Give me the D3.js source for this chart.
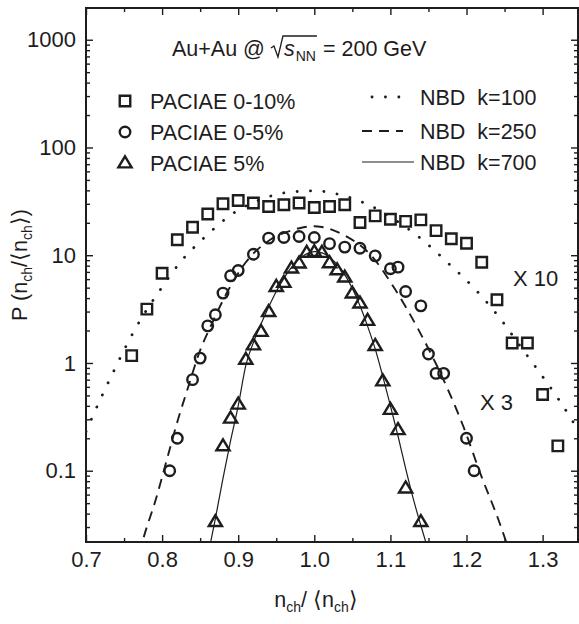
<!DOCTYPE html>
<html>
<head>
<meta charset="utf-8">
<script src="https://cdn.jsdelivr.net/npm/d3@7/dist/d3.min.js"></script>
<style>
  body { margin: 0; background: #fff; }
  text { font-family: "Liberation Sans", Arial, sans-serif; fill: #1e1c1d; }
</style>
</head>
<body>
<svg id="chart" width="579" height="624"></svg>
<script>

// PACIAE 0-10% (scaled x10)
let sqX = [0.76, 0.78, 0.80, 0.82, 0.84, 0.86, 0.88, 0.90, 0.92, 0.94, 0.96, 0.98, 1.00, 1.02, 1.04,
    1.06, 1.08, 1.10, 1.12, 1.14, 1.16, 1.18, 1.20, 1.22, 1.24, 1.26, 1.28, 1.30, 1.32];
let sqP = [1.17, 3.16, 6.8, 13.9, 18.2, 24.1, 30.0, 32.2, 30.5, 28.3, 29.4, 30.5, 27.7, 28.3, 29.4,
    20.1, 23.2, 21.6, 20.6, 21.3, 16.9, 14.2, 12.9, 8.6, 3.86, 1.53, 1.53, 0.51, 0.17];

// PACIAE 0-5% (scaled x3)
let ciX = [0.81, 0.82, 0.84, 0.85, 0.86, 0.87, 0.88, 0.89, 0.90, 0.92, 0.94, 0.96, 0.98, 1.00,
    1.02, 1.04, 1.06, 1.08, 1.10, 1.11, 1.12, 1.14, 1.15, 1.16, 1.17, 1.20, 1.21];
let ciP = [0.10, 0.20, 0.70, 1.11, 2.21, 2.80, 4.45, 6.44, 7.22, 10.2, 14.4, 14.6, 14.9, 14.6,
    12.8, 11.9, 11.6, 9.87, 7.48, 7.75, 4.60, 3.39, 1.21, 0.80, 0.80, 0.20, 0.10];

// PACIAE 5%
let trX = [0.87, 0.88, 0.89, 0.90, 0.91, 0.92, 0.93, 0.94, 0.95, 0.96, 0.97, 0.98, 0.99, 1.00,
    1.01, 1.02, 1.03, 1.04, 1.05, 1.06, 1.07, 1.08, 1.09, 1.10, 1.11, 1.12, 1.14];
let trP = [0.0337, 0.170, 0.307, 0.414, 1.08, 1.47, 1.96, 3.00, 5.12, 5.58, 7.59, 8.45, 10.6, 10.8,
    10.6, 8.5, 7.31, 6.26, 4.45, 3.59, 2.48, 1.45, 0.68, 0.37, 0.24, 0.069, 0.0337];

// NBD curves
let k100X = [0.700, 0.720, 0.735, 0.753, 0.773, 0.796, 0.822, 0.856, 0.892, 0.931, 0.964, 1.000,
    1.034, 1.071, 1.106, 1.142, 1.177, 1.213, 1.244, 1.271, 1.297, 1.321, 1.345];
let k100P = [0.23, 0.48, 0.80, 1.45, 2.61, 4.6, 8.3, 14.7, 24.1, 33.2, 38.2, 39.6,
    36.4, 29.4, 21.3, 13.9, 8.3, 4.7, 2.6, 1.42, 0.80, 0.46, 0.25];

let k250X = [0.770, 0.775, 0.792, 0.806, 0.821, 0.835, 0.848, 0.867, 0.886, 0.910, 0.942, 0.970,
    0.986, 1.000, 1.010, 1.038, 1.075, 1.104, 1.137, 1.174, 1.196, 1.218, 1.244, 1.255];
let k250P = [0.017, 0.023, 0.055, 0.125, 0.30, 0.62, 1.20, 2.45, 4.6, 8.6, 13.9, 17.0,
    18.2, 18.6, 18.3, 15.5, 9.9, 5.1, 2.03, 0.60, 0.256, 0.095, 0.032, 0.019];

let k700X = [0.860, 0.870, 0.880, 0.890, 0.900, 0.910, 0.920, 0.930, 0.940, 0.950, 0.960, 0.970,
    0.980, 0.990, 1.000, 1.010, 1.020, 1.030, 1.040, 1.050, 1.060, 1.070, 1.080, 1.090, 1.100,
    1.110, 1.120, 1.130, 1.140, 1.150];
let k700P = [0.016, 0.036, 0.085, 0.19, 0.40, 0.95, 1.55, 2.3, 3.3, 4.6, 6.1, 7.7,
    9.2, 10.3, 10.8, 10.5, 9.6, 8.2, 6.6, 4.9, 3.4, 2.2, 1.35, 0.75, 0.40,
    0.21, 0.105, 0.055, 0.031, 0.018];

let xMajor = [0.7, 0.8, 0.9, 1.0, 1.1, 1.2, 1.3];
let xMajorLabels = ['0.7', '0.8', '0.9', '1.0', '1.1', '1.2', '1.3'];
let xMinor = [0.75, 0.85, 0.95, 1.05, 1.15, 1.25];
let yMajor = [0.1, 1, 10, 100, 1000];
let yMajorLabels = ['0.1', '1', '10', '100', '1000'];

let Plot = { Left: 86, Right: 578, Top: 8, Bottom: 542 };
let Font = { Tick: 22, Label: 21.5, Sub: 14 };
let ink = '#1e1c1d';

let svg = d3.select('#chart');

let x = d3.scaleLinear().domain([0.7, 1.3465]).range([Plot.Left, Plot.Right]);
let y = d3.scaleLog().domain([0.0218, 1970]).range([Plot.Bottom, Plot.Top]);

let yMinor = y.ticks().filter(v => yMajor.indexOf(v) < 0 && Math.abs(Math.log10(v) % 1) > 1e-6);

svg.append('defs').append('clipPath').attr('id', 'plotClip')
    .append('rect')
    .attr('x', Plot.Left).attr('y', Plot.Top)
    .attr('width', Plot.Right - Plot.Left).attr('height', Plot.Bottom - Plot.Top);

// axes, ticks drawn inward on all four sides
function styleAxis(g) {
    g.select('.domain').remove();
    g.selectAll('line').attr('stroke', ink).attr('stroke-width', 1.4);
    g.selectAll('text').attr('font-size', Font.Tick).attr('fill', ink)
        .style('font-family', '"Liberation Sans", Arial, sans-serif');
}

svg.append('g').attr('transform', `translate(0,${Plot.Bottom})`)
    .call(d3.axisBottom(x).tickValues(xMajor).tickSize(-7).tickPadding(9)
        .tickFormat((d, i) => xMajorLabels[i]))
    .call(styleAxis);
svg.append('g').attr('transform', `translate(0,${Plot.Bottom})`)
    .call(d3.axisBottom(x).tickValues(xMinor).tickSize(-4).tickFormat(''))
    .call(styleAxis);
svg.append('g').attr('transform', `translate(0,${Plot.Top})`)
    .call(d3.axisTop(x).tickValues(xMajor).tickSize(-7).tickFormat(''))
    .call(styleAxis);
svg.append('g').attr('transform', `translate(0,${Plot.Top})`)
    .call(d3.axisTop(x).tickValues(xMinor).tickSize(-4).tickFormat(''))
    .call(styleAxis);

svg.append('g').attr('transform', `translate(${Plot.Left},0)`)
    .call(d3.axisLeft(y).tickValues(yMajor).tickSize(-7).tickPadding(10)
        .tickFormat((d, i) => yMajorLabels[i]))
    .call(styleAxis);
svg.append('g').attr('transform', `translate(${Plot.Left},0)`)
    .call(d3.axisLeft(y).tickValues(yMinor).tickSize(-4).tickFormat(''))
    .call(styleAxis);
svg.append('g').attr('transform', `translate(${Plot.Right},0)`)
    .call(d3.axisRight(y).tickValues(yMajor).tickSize(-7).tickFormat(''))
    .call(styleAxis);
svg.append('g').attr('transform', `translate(${Plot.Right},0)`)
    .call(d3.axisRight(y).tickValues(yMinor).tickSize(-4).tickFormat(''))
    .call(styleAxis);

svg.append('rect')
    .attr('x', Plot.Left).attr('y', Plot.Top)
    .attr('width', Plot.Right - Plot.Left).attr('height', Plot.Bottom - Plot.Top)
    .attr('fill', 'none').attr('stroke', ink).attr('stroke-width', 2);

// NBD curves
let curveStyles = [
    { xs: k100X, ps: k100P, dash: '0.1,13.3', width: 2.8, cap: 'round', lx: [372, 399] },
    { xs: k250X, ps: k250P, dash: '10,7', width: 1.9, cap: 'butt', lx: [362, 403] },
    { xs: k700X, ps: k700P, dash: null, width: 1.2, cap: 'butt', lx: [362, 414] }
];

let line = d3.line()
    .x(d => x(d[0]))
    .y(d => y(d[1]))
    .curve(d3.curveMonotoneX);

let curves = svg.append('g').attr('clip-path', 'url(#plotClip)');
curveStyles.forEach(c => {
    curves.append('path')
        .datum(d3.zip(c.xs, c.ps))
        .attr('d', line)
        .attr('fill', 'none')
        .attr('stroke', ink)
        .attr('stroke-width', c.width)
        .attr('stroke-linecap', c.cap)
        .attr('stroke-dasharray', c.dash);
});

// markers
let Marker = { Size: 10.5, Stroke: 2.4 };

function squarePath(cx, cy) {
    let h = Marker.Size / 2;
    return `M${cx - h},${cy - h}h${2 * h}v${2 * h}h${-2 * h}Z`;
}
function circlePath(cx, cy) {
    let r = Marker.Size / 2;
    return `M${cx - r},${cy}a${r},${r} 0 1,0 ${2 * r},0a${r},${r} 0 1,0 ${-2 * r},0Z`;
}
function trianglePath(cx, cy) {
    let w = 6.6, h = 11;
    return `M${cx},${cy - h * 0.6}L${cx + w},${cy + h * 0.4}L${cx - w},${cy + h * 0.4}Z`;
}

let markerSets = [
    { xs: sqX, ps: sqP, shape: squarePath },
    { xs: ciX, ps: ciP, shape: circlePath },
    { xs: trX, ps: trP, shape: trianglePath }
];

let markers = svg.append('g');
markerSets.forEach(m => {
    markers.append('g')
        .selectAll('path')
        .data(d3.zip(m.xs, m.ps))
        .join('path')
        .attr('d', d => m.shape(x(d[0]), y(d[1])))
        .attr('fill', 'none')
        .attr('stroke', ink)
        .attr('stroke-width', Marker.Stroke);
});

// legend
let legendLeft = [
    { label: 'PACIAE 0-10%', shape: squarePath, y: 101 },
    { label: 'PACIAE 0-5%', shape: circlePath, y: 132 },
    { label: 'PACIAE 5%', shape: trianglePath, y: 163 }
];
legendLeft.forEach(l => {
    svg.append('path')
        .attr('d', l.shape(125, l.y))
        .attr('fill', 'none').attr('stroke', ink).attr('stroke-width', Marker.Stroke);
    svg.append('text')
        .attr('x', 150).attr('y', l.y + 7.5)
        .attr('font-size', Font.Label)
        .text(l.label);
});

let legendRight = [
    { label: 'NBD\u00a0\u00a0k=100', style: curveStyles[0], y: 97 },
    { label: 'NBD\u00a0\u00a0k=250', style: curveStyles[1], y: 131 },
    { label: 'NBD\u00a0\u00a0k=700', style: curveStyles[2], y: 162 }
];
legendRight.forEach(l => {
    svg.append('line')
        .attr('x1', l.style.lx[0]).attr('x2', l.style.lx[1])
        .attr('y1', l.y).attr('y2', l.y)
        .attr('stroke', ink)
        .attr('stroke-width', l.style.width)
        .attr('stroke-linecap', l.style.cap)
        .attr('stroke-dasharray', l.style.dash);
    svg.append('text')
        .attr('x', 420).attr('y', l.y + 7.5)
        .attr('font-size', Font.Label)
        .text(l.label);
});

// title: Au+Au @ sqrt(s_NN) = 200 GeV
let title = svg.append('g');
let tx = 172, tBase = 56;
let t1 = title.append('text').attr('x', tx).attr('y', tBase).attr('font-size', Font.Label).text('Au+Au @');
tx += t1.node().getComputedTextLength() + 6;
let rootLeft = tx, rootTop = tBase - 20;
let sText = title.append('text').attr('x', rootLeft + 13).attr('y', tBase)
    .attr('font-size', Font.Label).attr('font-style', 'italic').text('s');
let sEnd = rootLeft + 13 + sText.node().getComputedTextLength() + 1;
let nn = title.append('text').attr('x', sEnd).attr('y', tBase + 5)
    .attr('font-size', Font.Sub).text('NN');
let nnEnd = sEnd + nn.node().getComputedTextLength() + 1;
title.append('path')
    .attr('d', `M${rootLeft},${tBase - 8}l3,-2l4,11l5,-${tBase + 1 - rootTop}H${nnEnd}`)
    .attr('fill', 'none').attr('stroke', ink).attr('stroke-width', 1.3);
title.append('text').attr('x', nnEnd + 6).attr('y', tBase).attr('font-size', Font.Label).text('= 200 GeV');

// scale annotations
svg.append('text').attr('x', 513).attr('y', 286).attr('font-size', Font.Tick).text('X 10');
svg.append('text').attr('x', 480).attr('y', 410).attr('font-size', Font.Tick).text('X 3');

// axis titles
let xTitle = svg.append('text')
    .attr('x', 316).attr('y', 607)
    .attr('text-anchor', 'middle')
    .attr('font-size', Font.Label);
xTitle.append('tspan').text('n');
xTitle.append('tspan').attr('font-size', Font.Sub).attr('dy', 5).text('ch');
xTitle.append('tspan').attr('dy', -5).text('/ \u27e8n');
xTitle.append('tspan').attr('font-size', Font.Sub).attr('dy', 5).text('ch');
xTitle.append('tspan').attr('dy', -5).text('\u27e9');

let yTitle = svg.append('text')
    .attr('transform', 'translate(27,265) rotate(-90)')
    .attr('text-anchor', 'middle')
    .attr('font-size', Font.Label);
yTitle.append('tspan').text('P (n');
yTitle.append('tspan').attr('font-size', Font.Sub).attr('dy', 5).text('ch');
yTitle.append('tspan').attr('dy', -5).text('/\u27e8n');
yTitle.append('tspan').attr('font-size', Font.Sub).attr('dy', 5).text('ch');
yTitle.append('tspan').attr('dy', -5).text('\u27e9)');

</script>
</body>
</html>
